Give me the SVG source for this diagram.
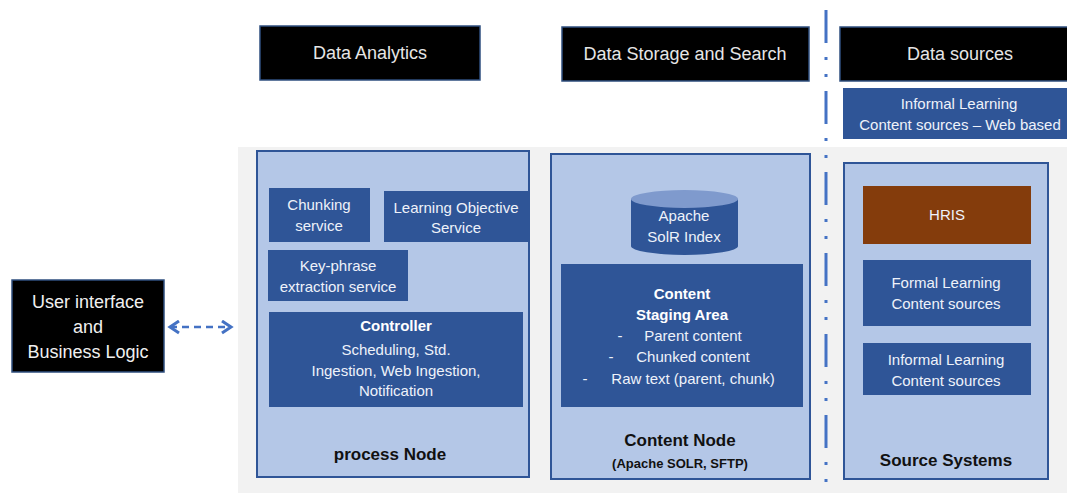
<svg xmlns="http://www.w3.org/2000/svg" width="1067" height="495" viewBox="0 0 1067 495">
<style>
text{font-family:"Liberation Sans","Noto Sans",Arial,sans-serif;text-anchor:middle}
.hdr{fill:#000;stroke:#2f4f7f;stroke-width:1.5}
.hdrt{fill:#e6e6e6;font-size:18px}
.cont{fill:#b4c7e7;stroke:#2f5597;stroke-width:2}
.blk{fill:#2f5597}
.wt{fill:#eef2fa;font-size:15px}
.wb{fill:#ffffff;font-size:15px;font-weight:bold}
.lbl{fill:#111;font-size:17px;font-weight:bold}
</style>
<defs>
<marker id="chev" viewBox="0 0 10 10" refX="8" refY="5" markerWidth="6" markerHeight="6" orient="auto-start-reverse" markerUnits="strokeWidth">
<path d="M2,1 L8,5 L2,9" fill="none" stroke="#4472c4" stroke-width="2"/>
</marker>
</defs>
<rect width="1067" height="495" fill="#ffffff"/>
<rect id="panel" x="238" y="147" width="829" height="346" fill="#f2f2f2"/>

<g id="hdr-analytics">
<rect class="hdr" x="260" y="26" width="220" height="54"/>
<text class="hdrt" x="370" y="59">Data Analytics</text>
</g>
<g id="hdr-storage">
<rect class="hdr" x="562" y="27" width="247" height="54"/>
<text class="hdrt" x="685" y="60">Data Storage and Search</text>
</g>
<g id="hdr-sources">
<rect class="hdr" x="840" y="27" width="240" height="54"/>
<text class="hdrt" x="960" y="60">Data sources</text>
</g>
<g id="web-sources">
<rect class="blk" x="843" y="88" width="230" height="51"/>
<text class="wt" x="959" y="109">Informal Learning</text>
<text class="wt" x="960" y="130">Content sources – Web based</text>
</g>

<g id="ui">
<rect x="12" y="280" width="152" height="92" fill="#000" stroke="#2f4f7f" stroke-width="1.5"/>
<text x="88" y="308" fill="#f0f0f0" font-size="18">User interface</text>
<text x="88" y="333" fill="#f0f0f0" font-size="18">and</text>
<text x="88" y="358" fill="#f0f0f0" font-size="18">Business Logic</text>
</g>

<g id="process-node">
<rect class="cont" x="257" y="151" width="272" height="326"/>
<g id="chunking">
<rect class="blk" x="269" y="188" width="101" height="54"/>
<text class="wt" x="319" y="210">Chunking</text>
<text class="wt" x="319" y="231">service</text>
</g>
<g id="learning-objective">
<rect class="blk" x="384" y="191" width="144" height="51"/>
<text class="wt" x="456" y="213">Learning Objective</text>
<text class="wt" x="456" y="233">Service</text>
</g>
<g id="keyphrase">
<rect class="blk" x="268" y="250" width="140" height="51"/>
<text class="wt" x="338" y="271">Key-phrase</text>
<text class="wt" x="338" y="292">extraction service</text>
</g>
<g id="controller">
<rect class="blk" x="269" y="312" width="254" height="95"/>
<text class="wb" x="396" y="331">Controller</text>
<text class="wt" x="396" y="355">Scheduling,  Std.</text>
<text class="wt" x="396" y="376">Ingestion, Web Ingestion,</text>
<text class="wt" x="396" y="396">Notification</text>
</g>
<text class="lbl" x="390" y="460">process Node</text>
</g>

<g id="content-node">
<rect class="cont" x="551" y="154" width="259" height="325"/>
<g id="solr-index">
<path d="M631,199 L631,246 A53.5,9 0 0 0 738,246 L738,199 Z" fill="#2f5597"/>
<ellipse cx="684.5" cy="199" rx="53.5" ry="9" fill="#7f9acd"/>
<text class="wt" x="684" y="221">Apache</text>
<text class="wt" x="684" y="242">SolR Index</text>
</g>
<g id="staging">
<rect class="blk" x="561" y="264" width="242" height="143"/>
<text class="wb" x="682" y="299">Content</text>
<text class="wb" x="682" y="320">Staging  Area</text>
<text class="wt" x="620" y="341">-</text>
<text class="wt" x="693" y="341">Parent content</text>
<text class="wt" x="611" y="362">-</text>
<text class="wt" x="693" y="362">Chunked content</text>
<text class="wt" x="585" y="384">-</text>
<text class="wt" x="693" y="384">Raw text (parent, chunk)</text>
</g>
<text class="lbl" x="680" y="446">Content Node</text>
<text x="680" y="468" fill="#111" font-size="13" font-weight="bold">(Apache SOLR, SFTP)</text>
</g>

<g id="source-systems">
<rect class="cont" x="844" y="163" width="204" height="316"/>
<g id="hris">
<rect x="863" y="186" width="168" height="58" fill="#843c0c"/>
<text class="wt" x="947" y="220">HRIS</text>
</g>
<g id="formal">
<rect class="blk" x="863" y="260" width="168" height="66"/>
<text class="wt" x="946" y="288">Formal Learning</text>
<text class="wt" x="946" y="309">Content sources</text>
</g>
<g id="informal">
<rect class="blk" x="863" y="343" width="168" height="52"/>
<text class="wt" x="946" y="365">Informal Learning</text>
<text class="wt" x="946" y="386">Content sources</text>
</g>
<text class="lbl" x="946" y="466" font-size="16">Source Systems</text>
</g>

<g id="connectors">
<line x1="170" y1="327" x2="231" y2="327" stroke="#4472c4" stroke-width="2.5" stroke-dasharray="7,5" marker-start="url(#chev)" marker-end="url(#chev)"/>
<line x1="826" y1="10" x2="826" y2="495" stroke="#4472c4" stroke-width="3" stroke-dasharray="33,14,3,14,3,14"/>
</g>
</svg>
